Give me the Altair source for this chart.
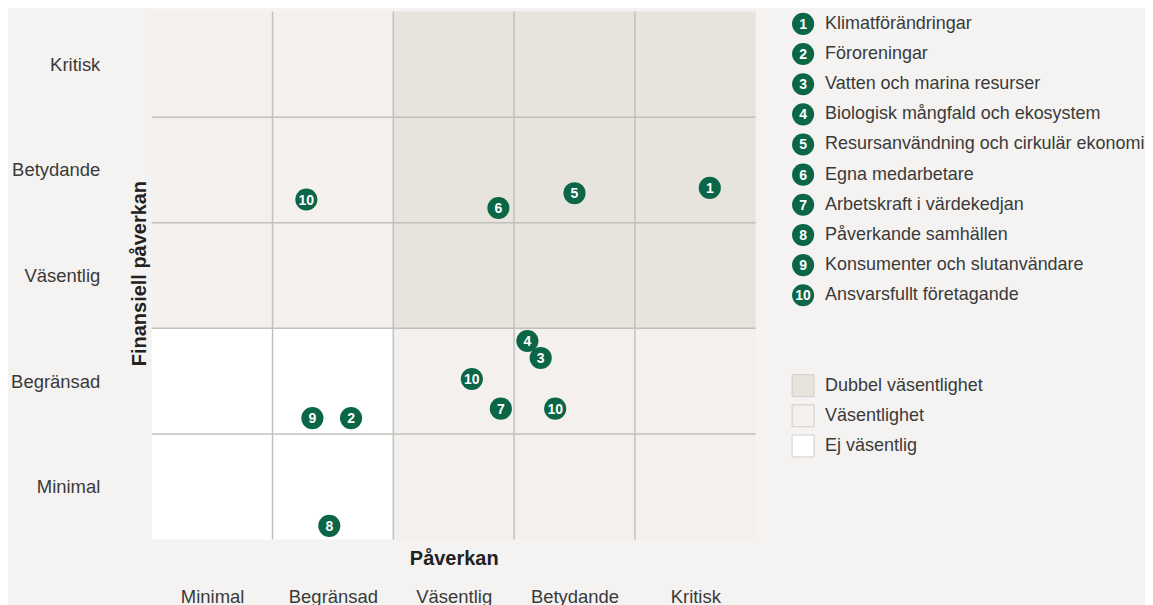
import altair as alt
import pandas as pd

FONT = "Liberation Sans"
GREEN = "#0b6647"

levels = ["Minimal", "Begränsad", "Väsentlig", "Betydande", "Kritisk"]
level_pos = [0.5, 1.5, 2.5, 3.5, 4.5]

topic_nr = [1, 2, 3, 4, 5, 6, 7, 8, 9, 10]
topic_names = [
    "Klimatförändringar",
    "Föroreningar",
    "Vatten och marina resurser",
    "Biologisk mångfald och ekosystem",
    "Resursanvändning och cirkulär ekonomi",
    "Egna medarbetare",
    "Arbetskraft i värdekedjan",
    "Påverkande samhällen",
    "Konsumenter och slutanvändare",
    "Ansvarsfullt företagande",
]
topic_rows = [0, 1, 2, 3, 4, 5, 6, 7, 8, 9]

point_nr = [1, 2, 3, 4, 5, 6, 7, 8, 9, 10, 10, 10]
point_impact = [4.62, 1.65, 3.22, 3.11, 3.50, 2.87, 2.89, 1.47, 1.33, 1.28, 2.65, 3.34]
point_financial = [3.33, 1.15, 1.72, 1.88, 3.28, 3.14, 1.24, 0.13, 1.15, 3.22, 1.52, 1.24]

zone_names = ["Dubbel väsentlighet", "Väsentlighet", "Ej väsentlig"]
zone_colors = ["#e7e3dd", "#f3f0ed", "#ffffff"]
zone_rows = [12, 13, 14]

region_zone = ["Ej väsentlig", "Väsentlighet", "Väsentlighet", "Dubbel väsentlighet"]
region_x0 = [0, 0, 2, 2]
region_x1 = [2, 2, 5, 5]
region_y0 = [0, 2, 0, 2]
region_y1 = [2, 5, 2, 5]

grid_lines = [1, 2, 3, 4]

W, H = 605, 529

regions = pd.DataFrame({"zone": region_zone, "x0": region_x0, "x1": region_x1,
                        "y0": region_y0, "y1": region_y1})
grid = pd.DataFrame({"g": grid_lines})
points = pd.DataFrame({"nr": point_nr, "impact": point_impact, "fin": point_financial})
topics = pd.DataFrame({"row": topic_rows, "nr": topic_nr, "name": topic_names})
zones = pd.DataFrame({"row": zone_rows, "zone": zone_names})

xscale = alt.Scale(domain=[0, 5], nice=False, zero=False)
yscale = alt.Scale(domain=[0, 5], nice=False, zero=False)
zone_scale = alt.Scale(domain=zone_names, range=zone_colors)

label_expr = "[" + ",".join("'" + l + "'" for l in levels) + "][floor(datum.value)]"

x_axis = alt.Axis(
    values=level_pos, labelExpr=label_expr, title="Påverkan",
    grid=False, ticks=False, domain=False, labelPadding=48,
    labelFont=FONT, labelFontSize=18.5, labelColor="#3a3a3a",
    titleFont=FONT, titleFontSize=20, titleFontWeight="bold", titleColor="#222222",
    titleY=19, titleBaseline="middle",
)
y_axis = alt.Axis(
    values=level_pos, labelExpr=label_expr, title="Finansiell påverkan",
    grid=False, ticks=False, domain=False, labelPadding=52,
    labelFont=FONT, labelFontSize=18.5, labelColor="#3a3a3a",
    titleFont=FONT, titleFontSize=20, titleFontWeight="bold", titleColor="#222222",
    titleX=-12, titleY=262, titleAngle=270, titleBaseline="middle",
)


def X(field):
    return alt.X(field, scale=xscale, axis=x_axis)


def Y(field):
    return alt.Y(field, scale=yscale, axis=y_axis)


rects = alt.Chart(regions).mark_rect(strokeWidth=0).encode(
    x=X("x0:Q"), x2="x1:Q", y=Y("y0:Q"), y2="y1:Q",
    color=alt.Color("zone:N", scale=zone_scale, legend=None),
)
vrules = alt.Chart(grid).mark_rule(color="#c2c0bd", strokeWidth=1.5).encode(x=X("g:Q"))
hrules = alt.Chart(grid).mark_rule(color="#c2c0bd", strokeWidth=1.5).encode(y=Y("g:Q"))
dots = alt.Chart(points).mark_circle(size=490, color=GREEN, opacity=1).encode(
    x=X("impact:Q"), y=Y("fin:Q"),
)
nums = alt.Chart(points).mark_text(color="white", font=FONT, fontWeight="bold",
                                   fontSize=14, baseline="middle", dy=1).encode(
    x=X("impact:Q"), y=Y("fin:Q"), text="nr:N",
)
main = alt.layer(rects, vrules, hrules, dots, nums).properties(width=W, height=H)

lscale = alt.Scale(domain=[-0.411, 17.106], reverse=True, nice=False, zero=False)
LX = 36.5
TX = 58.5

leg_dots = alt.Chart(topics).mark_circle(size=490, color=GREEN, opacity=1).encode(
    x=alt.value(LX), y=alt.Y("row:Q", scale=lscale, axis=None)
)
leg_nums = alt.Chart(topics).mark_text(color="white", font=FONT, fontWeight="bold",
                                       fontSize=14, baseline="middle", dy=1).encode(
    x=alt.value(LX), y=alt.Y("row:Q", scale=lscale, axis=None), text="nr:N"
)
leg_names = alt.Chart(topics).mark_text(align="left", baseline="middle", font=FONT,
                                        fontSize=18, color="#3a3a3a").encode(
    x=alt.value(TX), y=alt.Y("row:Q", scale=lscale, axis=None), text="name:N"
)
leg_sq = alt.Chart(zones).mark_square(size=484, opacity=1, stroke="#d2cec8",
                                      strokeWidth=1).encode(
    x=alt.value(LX), y=alt.Y("row:Q", scale=lscale, axis=None),
    color=alt.Color("zone:N", scale=zone_scale, legend=None),
)
leg_sq_names = alt.Chart(zones).mark_text(align="left", baseline="middle", font=FONT,
                                          fontSize=18, color="#3a3a3a").encode(
    x=alt.value(TX), y=alt.Y("row:Q", scale=lscale, axis=None), text="zone:N"
)
legend = alt.layer(leg_dots, leg_nums, leg_names, leg_sq, leg_sq_names).properties(
    width=300, height=H
)

chart = alt.hconcat(main, legend, spacing=10).resolve_scale(
    x="independent", y="independent"
).properties(
    padding={"left": 2, "top": 2, "right": 0, "bottom": 0},
    background="#f4f3f1",
).configure_view(strokeWidth=0)

chart.save("out.html", embed_options={"renderer": "svg", "actions": False})
